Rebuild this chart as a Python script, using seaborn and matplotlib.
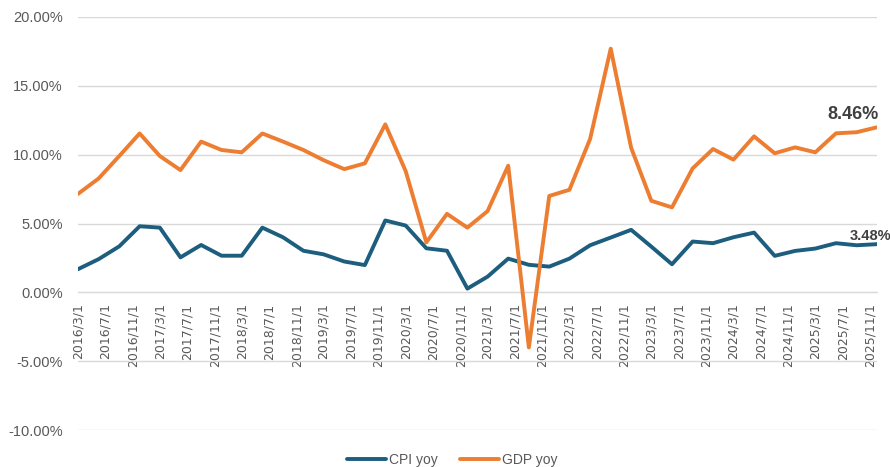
import pandas as pd
import numpy as np
import seaborn as sns
import matplotlib.pyplot as plt
import matplotlib.ticker as mticker
from matplotlib.lines import Line2D

# quarterly data, 2016/3 .. 2025/12
dates = pd.date_range("2016-03-01", "2025-12-01", freq="3MS")
cpi_yoy = [1.68, 2.41, 3.34, 4.80, 4.70, 2.54, 3.44, 2.66, 2.66, 4.70,
           4.00, 3.02, 2.76, 2.24, 1.98, 5.22, 4.85, 3.20, 3.02, 0.27,
           1.14, 2.45, 2.00, 1.87, 2.45, 3.42, 3.98, 4.54, 3.32, 2.04,
           3.69, 3.57, 4.00, 4.34, 2.65, 3.01, 3.18, 3.57, 3.42, 3.50]
gdp_yoy = [7.15, 8.27, 9.90, 11.54, 9.90, 8.88, 10.95, 10.34, 10.17, 11.54,
           10.95, 10.34, 9.60, 8.95, 9.37, 12.20, 8.80, 3.63, 5.70, 4.70,
           5.90, 9.20, -4.00, 7.00, 7.45, 11.14, 17.70, 10.50, 6.65, 6.17,
           9.00, 10.41, 9.64, 11.33, 10.10, 10.53, 10.17, 11.55, 11.63, 11.99]
series_names = ["CPI yoy", "GDP yoy"]
colors = ["#1D5E7E", "#ED7D31"]
end_labels = ["3.48%", "8.46%"]

df = pd.DataFrame({"date": dates, "CPI yoy": cpi_yoy, "GDP yoy": gdp_yoy})
long_df = df.melt(id_vars="date", var_name="series", value_name="value")

sns.set_style("white")
plt.rcParams['font.family'] = ['Liberation Sans', 'DejaVu Sans']

fig = plt.figure(figsize=(8.9, 4.67), dpi=100)
ax = fig.add_axes([0.0876, 0.0792, 0.8978, 0.8844])

sns.lineplot(data=long_df, x="date", y="value", hue="series",
             palette=dict(zip(series_names, colors)), linewidth=2.8,
             legend=False, ax=ax)

ax.set_ylim(-10, 20)
ax.set_yticks(np.arange(-10, 21, 5))
ax.yaxis.set_major_formatter(mticker.FuncFormatter(lambda v, p: f"{v:.2f}%"))
ax.set_xlim(dates[0], dates[-1])
ax.grid(axis="y", color="#D9D9D9", linewidth=1)
ax.set_axisbelow(True)

for s in ["top", "right", "left"]:
    ax.spines[s].set_visible(False)
ax.spines["bottom"].set_position(("data", 0))
ax.spines["bottom"].set_color("#D9D9D9")
ax.spines["bottom"].set_zorder(0)

# ticks every 4 months, Excel style labels
tick_dates = pd.date_range("2016-03-01", "2025-11-01", freq="4MS")
ax.set_xticks(tick_dates)
ax.set_xticklabels([f"{d.year}/{d.month}/{d.day}" for d in tick_dates],
                   rotation=90, fontsize=9, color="#595959",
                   family=['Liberation Sans Narrow', 'DejaVu Sans'])
ax.tick_params(axis="x", length=5, color="#D9D9D9", pad=3)
ax.tick_params(axis="y", length=0, labelsize=10.5, labelcolor="#595959", pad=11)
ax.set_xlabel("")
ax.set_ylabel("")

# end-point labels
ax.annotate(end_labels[1], (dates[-1], gdp_yoy[-1]), xytext=(-17, 9),
            textcoords="offset points", ha="center", va="center",
            fontsize=13, fontweight="bold", color="#404040")
ax.annotate(end_labels[0], (dates[-1], cpi_yoy[-1]), xytext=(-5, 6),
            textcoords="offset points", ha="center", va="center",
            fontsize=10.5, fontweight="bold", color="#404040")

handles = [Line2D([], [], color=c, linewidth=2.8) for c in colors]
fig.legend(handles, series_names, loc="center", bbox_to_anchor=(0.508, 0.015),
           ncol=2, frameon=False, fontsize=10, handlelength=2.8,
           handletextpad=0.2, columnspacing=1.6, labelcolor="#595959")

fig.savefig("out.png", dpi=100)
